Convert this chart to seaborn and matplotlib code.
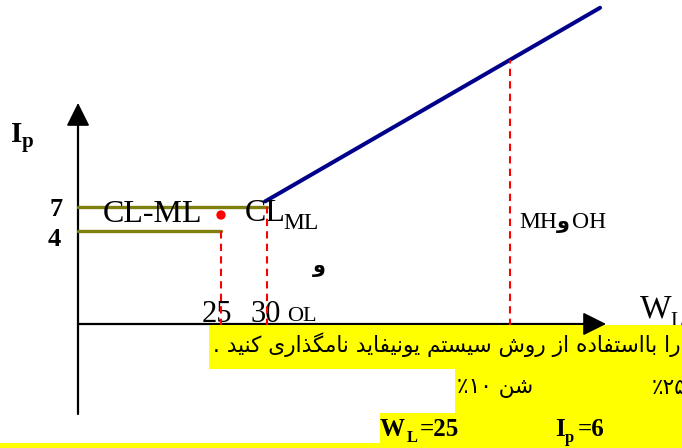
import matplotlib
matplotlib.use("Agg")
import matplotlib.pyplot as plt
import matplotlib.transforms as mtransforms
from matplotlib.patches import Rectangle
import seaborn as sns

# ── schematic values (W_L on x, I_p on y) ─────────────────────────
wl_ticks = [25, 30]
ip_ticks = [4, 7]
origin_wl, origin_ip = 9.46, -7.62        # where the two axes cross
wl_axis_end = 66.85
ip_axis_top, ip_axis_bottom = 20.0, -18.9

band_wl = [[origin_wl, 30], [origin_wl, 25]]   # Ip = 7 and Ip = 4 limits
band_ip = [7, 4]

a_line_wl = [29.8, 66.2]
a_line_ip = [7.7, 31.9]

boundary_wl = [25, 30, 56.4]
boundary_top = [4, 7, 25.4]
boundary_bottom = -7.9

sample_wl, sample_ip = 25, 6

# ── Persian text helper (contextual forms + visual order) ────────
FORMS = {
    'ا': ('\uFE8D', '\uFE8E', None, None),
    'ب': ('\uFE8F', '\uFE90', '\uFE91', '\uFE92'),
    'ت': ('\uFE95', '\uFE96', '\uFE97', '\uFE98'),
    'د': ('\uFEA9', '\uFEAA', None, None),
    'ذ': ('\uFEAB', '\uFEAC', None, None),
    'ر': ('\uFEAD', '\uFEAE', None, None),
    'ز': ('\uFEAF', '\uFEB0', None, None),
    'س': ('\uFEB1', '\uFEB2', '\uFEB3', '\uFEB4'),
    'ش': ('\uFEB5', '\uFEB6', '\uFEB7', '\uFEB8'),
    'ف': ('\uFED1', '\uFED2', '\uFED3', '\uFED4'),
    'م': ('\uFEE1', '\uFEE2', '\uFEE3', '\uFEE4'),
    'ن': ('\uFEE5', '\uFEE6', '\uFEE7', '\uFEE8'),
    'ه': ('\uFEE9', '\uFEEA', '\uFEEB', '\uFEEC'),
    'و': ('\uFEED', '\uFEEE', None, None),
    'ی': ('\uFBFC', '\uFBFD', '\uFBFE', '\uFBFF'),
    'ک': ('\uFB8E', '\uFB8F', '\uFB90', '\uFB91'),
    'گ': ('\uFB92', '\uFB93', '\uFB94', '\uFB95'),
}


def fa(text):
    out = []
    for i, ch in enumerate(text):
        if ch not in FORMS:
            out.append(ch)
            continue
        prev = text[i - 1] if i > 0 else ''
        nxt = text[i + 1] if i + 1 < len(text) else ''
        join_prev = prev in FORMS and FORMS[prev][2] is not None
        join_next = nxt in FORMS and FORMS[ch][2] is not None
        iso, fin, ini, med = FORMS[ch]
        if join_prev and join_next:
            out.append(med)
        elif join_prev:
            out.append(fin)
        elif join_next:
            out.append(ini)
        else:
            out.append(iso)
    return ''.join(out)[::-1]


W, H = 682, 448
sns.set_style("white")
plt.rcParams['text.color'] = 'black'
fig = plt.figure(figsize=(W / 100, H / 100), dpi=100)
ax = fig.add_axes([0, 0, 1, 1])
ax.set_xlim(25 - 221 / 9.2, 25 + (W - 221) / 9.2)
ax.set_ylim(7 - (H - 207) / 8, 7 + 207 / 8)
ax.axis("off")

# pixel-style coordinates (origin top-left) for text and highlight boxes
PIX = mtransforms.Affine2D().scale(1 / W, -1 / H).translate(0, 1) + ax.transAxes
SERIF = "Liberation Serif"
FA = "DejaVu Sans"


def put(x, y, s, **kw):
    ax.text(x, y, s, transform=PIX, va="baseline", ha="left", color="black", **kw)


# ── yellow highlighted question text ─────────────────────────────
for x0, y0, x1, y1 in [(209, 325, W, 369), (455, 369, W, 413),
                       (380, 413, W, H), (0, 443, W, H)]:
    ax.add_patch(Rectangle((x0, y0), x1 - x0, y1 - y0, transform=PIX,
                           facecolor="#ffff00", edgecolor="none", zorder=5))

# ── axes with arrow heads ─────────────────────────────────────────
ax.plot([origin_wl, origin_wl], [ip_axis_bottom, ip_axis_top - 2], color="black", lw=1.6, zorder=3)
ax.plot([origin_wl, wl_axis_end - 2], [origin_ip, origin_ip], color="black", lw=1.6, zorder=3)
head = dict(arrowstyle="-|>,head_length=1.0,head_width=0.5", mutation_scale=14.5,
            color="black", lw=1.2, shrinkA=0, shrinkB=0)
ax.annotate("", xy=(origin_wl, ip_axis_top), xytext=(origin_wl, ip_axis_top - 2.6),
            arrowprops=head, zorder=6)
ax.annotate("", xy=(wl_axis_end, origin_ip), xytext=(wl_axis_end - 2.3, origin_ip),
            arrowprops=head, zorder=6)

# ── chart lines ───────────────────────────────────────────────────
for xs, ip in zip(band_wl, band_ip):
    sns.lineplot(x=xs, y=[ip, ip], color="#7f7f10", lw=2.4, estimator=None, ax=ax, zorder=3)
sns.lineplot(x=a_line_wl, y=a_line_ip, color="#00008b", lw=2.9, estimator=None, ax=ax, zorder=3)
ax.vlines(boundary_wl, boundary_bottom, boundary_top, colors="#ff0000",
          linestyles=(0, (3.5, 2.5)), lw=1.5, zorder=4)
sns.scatterplot(x=[sample_wl], y=[sample_ip], color="#ff0000", s=45,
                edgecolor="none", ax=ax, zorder=4)

# ── labels ────────────────────────────────────────────────────────
put(11, 142, "I", family=SERIF, weight="bold", fontsize=21)
put(22, 147, "p", family=SERIF, weight="bold", fontsize=15)
ax.text(63, 216, str(ip_ticks[1]), transform=PIX, ha="right", va="baseline",
        family=SERIF, weight="bold", fontsize=19, color="black")
ax.text(61, 246, str(ip_ticks[0]), transform=PIX, ha="right", va="baseline",
        family=SERIF, weight="bold", fontsize=19, color="black")

put(103, 222, "CL-ML", family=SERIF, fontsize=23)
put(245, 221, "CL", family=SERIF, fontsize=23)
put(283, 229, "ML", family=SERIF, fontsize=17)
put(313, 272, fa("و"), family=FA, weight="bold", fontsize=15)

put(202, 322, str(wl_ticks[0]), family=SERIF, fontsize=22)
put(251, 322, str(wl_ticks[1]), family=SERIF, fontsize=22)
put(287, 321, "OL", family=SERIF, fontsize=16)

put(519, 228, "MH", family=SERIF, fontsize=17)
put(557, 228, fa("و"), family=FA, weight="bold", fontsize=15)
put(572, 228, "OH", family=SERIF, fontsize=17)

put(640, 318, "W", family=SERIF, fontsize=24)
put(670, 326, "L", family=SERIF, fontsize=15)

# question text (Persian)
row1 = fa("را بااستفاده از روش سیستم یونیفاید نامگذاری کنید .")
ax.text(213, 345, row1, transform=PIX, ha="left", va="center", family=FA,
        fontsize=15.6, zorder=6, color="black")
ax.text(457, 388, "٪۱۰ " + fa("شن"), transform=PIX, ha="left", va="center",
        family=FA, fontsize=15.6, zorder=6, color="black")
ax.text(652, 388, "٪۲۵", transform=PIX, ha="left", va="center", family=FA,
        fontsize=15.6, zorder=6, color="black")

for x, s, fs in [(380, "W", 18), (407, "L", 12), (420, "=25", 18),
                 (555, "I", 18), (565, "p", 12), (578, "=6", 18)]:
    y = 442 if fs == 12 else 436
    ax.text(x, y, s, transform=PIX, ha="left", va="baseline", family=SERIF,
            weight="bold", fontsize=fs, zorder=6, color="black")

fig.savefig("out.png", dpi=100, facecolor="white")
